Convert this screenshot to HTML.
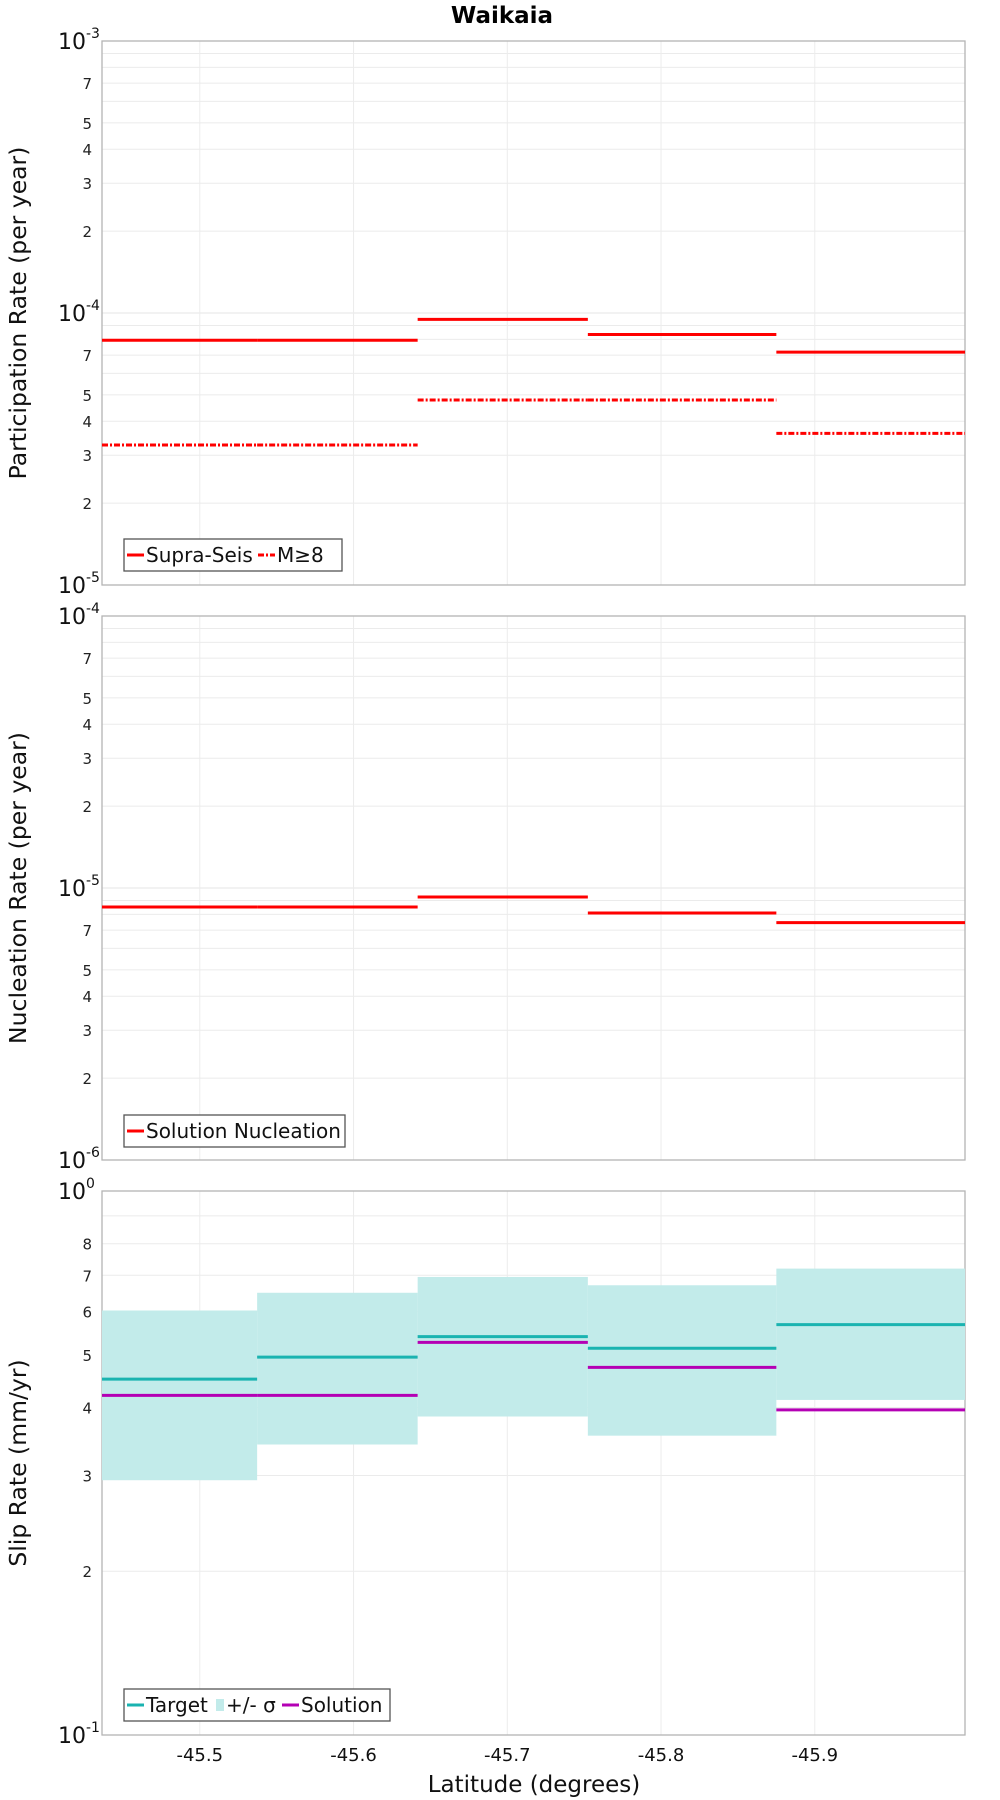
<!DOCTYPE html>
<html><head><meta charset="utf-8"><style>
html,body{margin:0;padding:0;background:#fff;}
svg{display:block;font-family:"DejaVu Sans","Liberation Sans",sans-serif;}
</style></head><body>
<svg id="chart" width="1000" height="1800" viewBox="0 0 1000 1800" xmlns="http://www.w3.org/2000/svg">
<text x="502" y="23" text-anchor="middle" font-size="23" font-weight="bold">Waikaia</text>
</svg>
<script>
// ---- data ----
const segBounds = [-45.4364, -45.5373, -45.6417, -45.7524, -45.875, -45.9977];
const xTicks = [-45.5, -45.6, -45.7, -45.8, -45.9];
const xTickLabels = ["-45.5", "-45.6", "-45.7", "-45.8", "-45.9"];
const supraSeis = [7.94e-5, 7.94e-5, 9.47e-5, 8.34e-5, 7.18e-5];
const m8 = [3.27e-5, 3.27e-5, 4.79e-5, 4.79e-5, 3.61e-5];
const nucleation = [8.51e-6, 8.51e-6, 9.27e-6, 8.09e-6, 7.46e-6];
const slipTarget = [0.451, 0.495, 0.540, 0.514, 0.568];
const slipSolution = [0.421, 0.421, 0.527, 0.474, 0.396];
const slipUpper = [0.603, 0.650, 0.695, 0.671, 0.720];
const slipLower = [0.294, 0.342, 0.385, 0.355, 0.413];
const rateMinorLabels = [2, 3, 4, 5, 7];
const slipMinorLabels = [2, 3, 4, 5, 6, 7, 8];

const NS = "http://www.w3.org/2000/svg";
const svg = document.getElementById("chart");
const L = 102, R = 965;
function xs(lat){ return L + (lat - segBounds[0]) / (segBounds[5] - segBounds[0]) * (R - L); }
function el(tag, attrs, parent){
  const e = document.createElementNS(NS, tag);
  for (const k in attrs) e.setAttribute(k, attrs[k]);
  (parent || svg).appendChild(e);
  return e;
}
function makePanel(top, bottom, expTop, expBot, yTitle, name, labels){
  const g = el("g", {});
  
  
  const ys = v => top + (expTop - Math.log10(v)) / (expTop - expBot) * (bottom - top);
  for (let e = expBot; e < expTop; e++) {
    for (let m = 2; m <= 9; m++) {
      const y = ys(m * Math.pow(10, e));
      const gl = el("line", {x1:L, x2:R, y1:y, y2:y, stroke:"#ebebeb", "stroke-width":1}, g);
      
      
      if (labels.includes(m)) {
        const t = el("text", {x:92, y:y+6, "text-anchor":"end", "font-size":15, fill:"#222"}, g);
        
        
        t.textContent = m;
      }
    }
  }
  for (let e = expBot; e <= expTop; e++) {
    const y = ys(Math.pow(10, e));
    if (e > expBot && e < expTop) {
      const gl = el("line", {x1:L, x2:R, y1:y, y2:y, stroke:"#e4e4e4", "stroke-width":1}, g);
      
      
    }
    const t = el("text", {x:58, y:y+8, "text-anchor":"start", "font-size":22, fill:"#111"}, g);
    
    
    t.textContent = "10";
    const s = el("tspan", {dy:-11, "font-size":14}, t);
    s.textContent = String(e);
  }
  xTicks.forEach(v => {
    const x = xs(v);
    const gl = el("line", {x1:x, x2:x, y1:top, y2:bottom, stroke:"#ececec", "stroke-width":1}, g);
    
    
  });
  const fr = el("rect", {x:L, y:top, width:R-L, height:bottom-top, fill:"none", stroke:"#b4b4b4", "stroke-width":1.3}, g);
  
  
  const cy = (top + bottom) / 2;
  const yt = el("text", {x:0, y:0, transform:`translate(26,${cy}) rotate(-90)`, "text-anchor":"middle", "font-size":23.5, fill:"#111"}, g);
  
  
  yt.textContent = yTitle;
  return {g, ys};
}
function steps(p, vals, color, dash, name){
  vals.forEach((v, i) => {
    const y = p.ys(v);
    const a = {x1:xs(segBounds[i]), x2:xs(segBounds[i+1]), y1:y, y2:y, stroke:color, "stroke-width":3};
    if (dash) a["stroke-dasharray"] = dash;
    const ln = el("line", a, p.g);
    
    
  });
}
function legend(p, x, y, w, items, name){
  const lg = el("g", {}, p.g);
  
  
  el("rect", {x:x, y:y, width:w, height:32, fill:"#fff", stroke:"#555", "stroke-width":1.3}, lg);
  let cx = x + 3;
  items.forEach(it => {
    if (it.box) el("rect", {x:cx, y:y+10, width:8, height:12, fill:it.color}, lg);
    else {
      const a = {x1:cx, x2:cx+17, y1:y+16, y2:y+16, stroke:it.color, "stroke-width":3};
      if (it.dash) a["stroke-dasharray"] = it.dash;
      el("line", a, lg);
    }
    cx += it.box ? 10 : 19;
    const t = el("text", {x:cx, y:y+23, "font-size":20, fill:"#111"}, lg);
    
    
    t.textContent = it.label;
    cx += it.tw;
  });
}

const p1 = makePanel(41, 585, -3, -5, "Participation Rate (per year)", "participation", rateMinorLabels);
steps(p1, supraSeis, "#ff0000", null, "supra-seis");
steps(p1, m8, "#ff0000", "6,2,2,2", "m8");
legend(p1, 124, 539, 218, [{color:"#ff0000", label:"Supra-Seis", tw:112},{color:"#ff0000", dash:"6,2,2,2", label:"M≥8", tw:44}], "participation-legend");

const p2 = makePanel(616, 1160, -4, -6, "Nucleation Rate (per year)", "nucleation", rateMinorLabels);
steps(p2, nucleation, "#ff0000", null, "nucleation");
legend(p2, 124, 1115, 221, [{color:"#ff0000", label:"Solution Nucleation", tw:197}], "nucleation-legend");

const p3 = makePanel(1191, 1735, 0, -1, "Slip Rate (mm/yr)", "slip", slipMinorLabels);
slipUpper.forEach((u, i) => {
  const y1 = p3.ys(u), y2 = p3.ys(slipLower[i]);
  const r = el("rect", {x:xs(segBounds[i]), y:y1, width:xs(segBounds[i+1])-xs(segBounds[i]), height:y2-y1, fill:"#c2ebea"}, p3.g);
  
  
});
steps(p3, slipTarget, "#1ab3b0", null, "target");
steps(p3, slipSolution, "#b400b4", null, "solution");
legend(p3, 124, 1689, 266, [{color:"#1ab3b0", label:"Target", tw:70},{color:"#c2ebea", box:true, label:"+/- σ", tw:56},{color:"#b400b4", label:"Solution", tw:88}], "slip-legend");

xTicks.forEach((v, i) => {
  const t = el("text", {x:xs(v), y:1761, "text-anchor":"middle", "font-size":18, fill:"#111"});
  
  
  t.textContent = xTickLabels[i];
});
const xt = el("text", {x:534, y:1792, "text-anchor":"middle", "font-size":23, fill:"#111"});


xt.textContent = "Latitude (degrees)";
</script>
</body></html>
